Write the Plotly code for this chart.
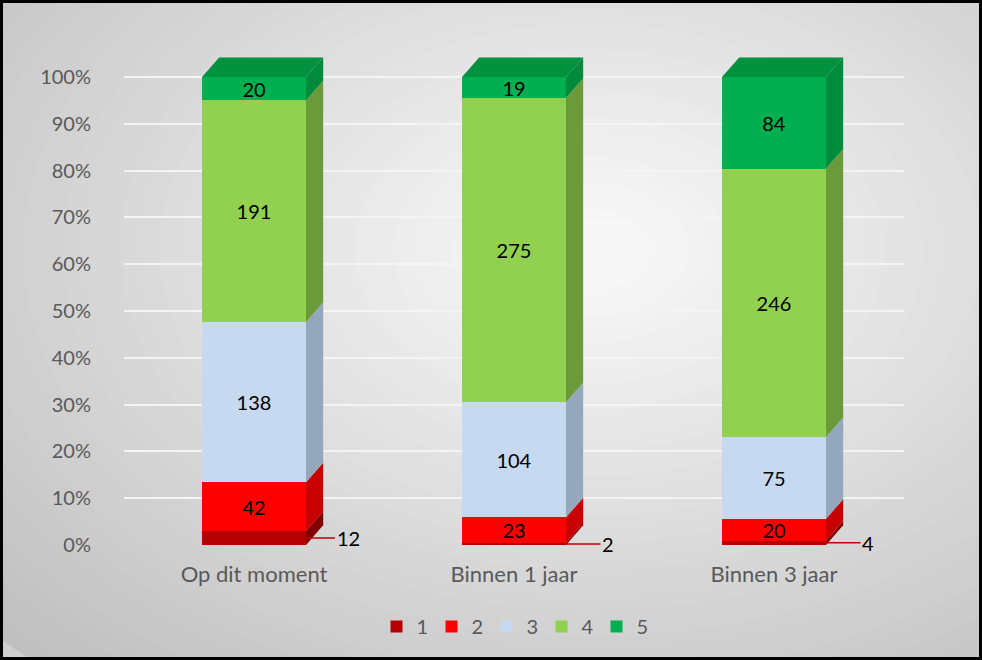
import plotly.graph_objects as go

categories = ["Op dit moment", "Binnen 1 jaar", "Binnen 3 jaar"]
series_names = ["1", "2", "3", "4", "5"]
s1 = [12, 2, 4]
s2 = [42, 23, 20]
s3 = [138, 104, 75]
s4 = [191, 275, 246]
s5 = [20, 19, 84]
series_values = [s1, s2, s3, s4, s5]
y_ticks = [0, 10, 20, 30, 40, 50, 60, 70, 80, 90, 100]

front_colors = ["#b40000", "#ff0000", "#c6d9f0", "#92d050", "#00b050"]
side_colors = ["#800000", "#c80000", "#95a7bd", "#6b9a3a", "#008a3c"]
top_color = "#00923f"

W, H = 982, 660
L, R, T, B = 124, 78, 49, 115
PW, PH = W - L - R, H - T - B
BAR_W = 0.4
DX, DY = 0.066, 4.2

fig = go.Figure()

def px2paper_x(px):
    return (px - L) / PW

def px2paper_y(py):
    return (H - B - py) / PH

# background radial gradient (concentric ellipses)
n = 40
for k in range(n):
    f = k / (n - 1)
    g = int(192 + (247 - 192) * f)
    rx = 760 * (1 - f) + 60
    ry = 520 * (1 - f) + 40
    cx, cy = 590, 250
    fig.add_shape(type="circle", xref="paper", yref="paper",
                  x0=px2paper_x(cx - rx), x1=px2paper_x(cx + rx),
                  y0=px2paper_y(cy + ry), y1=px2paper_y(cy - ry),
                  fillcolor=f"rgb({g},{g},{g})", line=dict(width=0), layer="below")

x_idx = list(range(len(categories)))
totals = [sum(v[i] for v in series_values) for i in x_idx]

for name, vals, col in zip(series_names, series_values, front_colors):
    pct = [v / t * 100 for v, t in zip(vals, totals)]
    fig.add_trace(go.Bar(
        x=x_idx, y=pct, name=name, width=BAR_W,
        marker=dict(color=col, line=dict(width=0)),
        text=[str(v) for v in vals],
        texttemplate="%{text}" if name != "1" else "",
        textposition="inside" if name != "1" else "none",
        insidetextanchor="middle",
        textangle=0,
        constraintext="none",
        textfont=dict(color="black", size=20, family="Lato"),
        hoverinfo="skip",
    ))

# 3D side and top faces computed from data
for i in x_idx:
    base = 0.0
    xr = i + BAR_W / 2
    xl = i - BAR_W / 2
    for j, vals in enumerate(series_values):
        h = vals[i] / totals[i] * 100
        y0, y1 = base, base + h
        path = (f"M {xr},{y0} L {xr + DX},{y0 + DY} L {xr + DX},{y1 + DY} "
                f"L {xr},{y1} Z")
        fig.add_shape(type="path", path=path, xref="x", yref="y",
                      fillcolor=side_colors[j], line=dict(width=0), layer="above")
        base = y1
    path = (f"M {xl},{base} L {xl + DX},{base + DY} L {xr + DX},{base + DY} "
            f"L {xr},{base} Z")
    fig.add_shape(type="path", path=path, xref="x", yref="y",
                  fillcolor=top_color, line=dict(width=0), layer="above")

# labels for series 1 with leader line
for i in x_idx:
    h = s1[i] / totals[i] * 100
    fig.add_annotation(x=i + BAR_W / 2, y=h / 2, xref="x", yref="y",
                       text=str(s1[i]), showarrow=True, arrowhead=0,
                       arrowcolor="#c00000", arrowwidth=1.5,
                       ax=42, ay=0, font=dict(size=20, color="black", family="Lato"))

# outer border
fig.add_shape(type="rect", xref="paper", yref="paper",
              x0=px2paper_x(1.5), x1=px2paper_x(W - 1.5),
              y0=px2paper_y(H - 1.5), y1=px2paper_y(1.5),
              line=dict(color="black", width=3), fillcolor="rgba(0,0,0,0)")

fig.update_layout(
    width=W, height=H,
    margin=dict(l=L, r=R, t=T, b=B, autoexpand=False),
    barmode="stack",
    paper_bgcolor="#cfcfcf",
    plot_bgcolor="rgba(0,0,0,0)",
    font=dict(family="Lato", size=20, color="#595959"),
    showlegend=True,
    legend=dict(orientation="h", x=0.5, xanchor="center", y=-0.125, yanchor="top",
                font=dict(size=20, color="#595959"), itemwidth=30,
                entrywidth=10, entrywidthmode="pixels",
                bgcolor="rgba(0,0,0,0)", traceorder="normal"),
    xaxis=dict(tickvals=x_idx, ticktext=categories, range=[-0.5, 2.5],
               showgrid=False, zeroline=False, showline=False,
               ticks="", ticklabelstandoff=14,
               tickfont=dict(size=22, color="#595959")),
    yaxis=dict(range=[0, 106], tickvals=y_ticks,
               ticktext=[f"{v}%" for v in y_ticks],
               showgrid=True, gridcolor="#f4f4f4", gridwidth=1.5,
               zeroline=False, showline=False, ticks="",
               ticklabelstandoff=32,
               tickfont=dict(size=20, color="#595959")),
)

fig.write_html("out.html", config={"displayModeBar": False},
               post_script="document.body.style.margin='0';document.body.style.overflow='hidden';")
